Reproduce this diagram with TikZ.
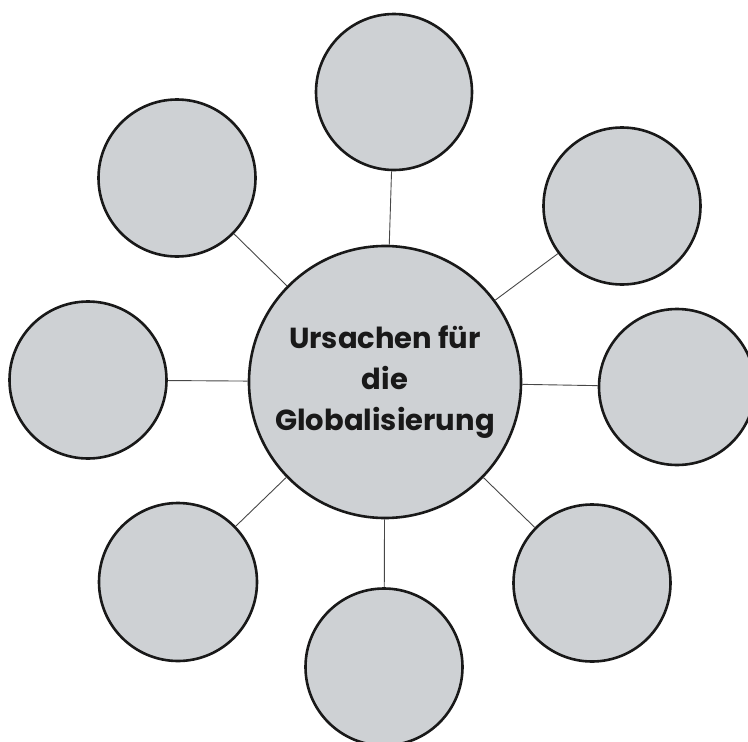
\documentclass[tikz,border=0pt]{standalone}
\usepackage{fontspec}
\newfontfamily\labelfont{Poppins}[UprightFont=* Bold]
\definecolor{bubble}{RGB}{206,209,212}
\definecolor{ink}{RGB}{25,25,25}
\begin{document}
\begin{tikzpicture}[x=1pt,y=-1pt,
  bub/.style={circle,draw=ink,fill=bubble,line width=2.6pt,inner sep=0pt,minimum size=#1},
  link/.style={draw=ink!80,line width=0.9pt}]
\useasboundingbox (0,0) rectangle (748,742);
\node[bub=272pt,align=center,font=\labelfont\fontsize{29}{41}\selectfont,text=ink] (c) at (385,382) {Ursachen für\\die\\Globalisierung};
\node[bub=156pt] (t) at (394,92) {};
\node[bub=157pt] (tl) at (177,178) {};
\node[bub=157pt] (tr) at (622,206) {};
\node[bub=157pt] (l) at (88,380) {};
\node[bub=156pt] (r) at (677,387) {};
\node[bub=158pt] (bl) at (178,582) {};
\node[bub=157pt] (br) at (592,583) {};
\node[bub=157pt] (b) at (384,667) {};
\draw[link] (c) -- (t);
\draw[link] (c) -- (tl);
\draw[link] (c) -- (tr);
\draw[link] (c) -- (l);
\draw[link] (c) -- (r);
\draw[link] (c) -- (bl);
\draw[link] (c) -- (br);
\draw[link] (c) -- (b);
\end{tikzpicture}
\end{document}
